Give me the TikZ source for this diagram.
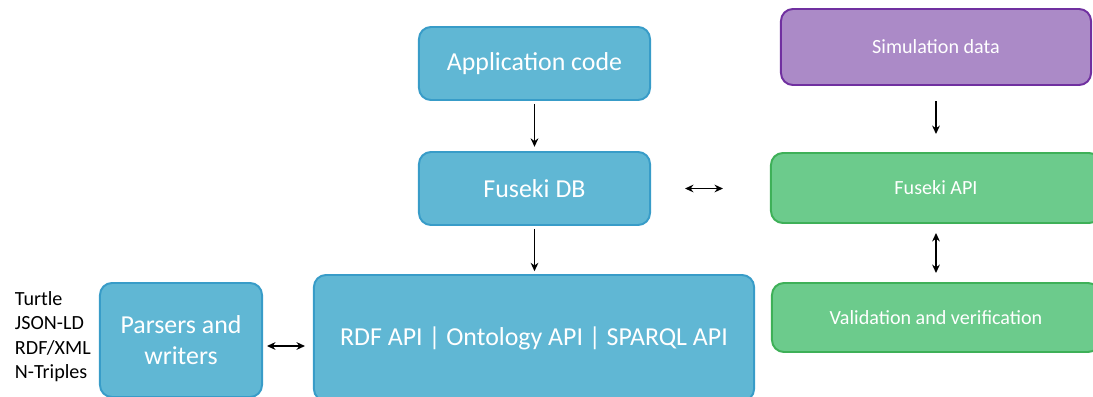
\documentclass[tikz,border=0pt]{standalone}
\usepackage{fontspec}
\setmainfont{Carlito}
\usepackage{tikz}
\usetikzlibrary{calc,arrows.meta,positioning}
\definecolor{skyFill}{RGB}{96, 183, 212}
\definecolor{skyLine}{RGB}{56, 156, 200}
\definecolor{leafFill}{RGB}{108, 203, 140}
\definecolor{leafLine}{RGB}{62, 176, 88}
\definecolor{lilacFill}{RGB}{171, 138, 199}
\definecolor{lilacLine}{RGB}{112, 48, 160}

\tikzset{
    box/.style={rounded corners=0.3cm, line width=1.4pt, text=white,
        align=center, inner sep=0pt},
    blueBox/.style={box, draw=skyLine, fill=skyFill,
        font=\fontsize{18.4}{22.5}\selectfont},
    greenBox/.style={box, draw=leafLine, fill=leafFill,
        font=\fontsize{14.3}{17.5}\selectfont},
    purpleBox/.style={box, draw=lilacLine, fill=lilacFill,
        font=\fontsize{14.3}{17.5}\selectfont},
    link/.style={line width=1.1pt, -{Stealth[length=6pt,width=5.5pt]}},
    twoway/.style={line width=1.1pt, {Stealth[length=6pt,width=5.5pt]}-{Stealth[length=6pt,width=5.5pt]}}
}

\begin{document}
\begin{tikzpicture}[x=0.025cm, y=-0.025cm]
    \useasboundingbox (0,0) rectangle (1093,396);
    \clip (0,0) rectangle (1093,396);
    % left column
    \node[blueBox, minimum width=5.775cm, minimum height=1.825cm] (app) at (534.5,63.5) {Application code};
    \node[blueBox, minimum width=5.775cm, minimum height=1.825cm] (fusekidb) at (534.5,188.5) {Fuseki DB};
    \node[blueBox, minimum width=11cm, minimum height=3.15cm] (rdfapi) at (534,338) {RDF API | Ontology API | SPARQL API};
    \node[blueBox, minimum width=4.05cm, minimum height=2.85cm] (parsers) at (181,340) {Parsers and\\writers};
    \node[anchor=west, align=left, font=\fontsize{14.3}{17.4}\selectfont] (formats) at (10,336.5) {Turtle\\JSON-LD\\RDF/XML\\N-Triples};
    % right column
    \node[purpleBox, minimum width=7.75cm, minimum height=1.9cm] (sim) at (936,47) {Simulation data};
    \node[greenBox, minimum width=8.25cm, minimum height=1.75cm] (fusekiapi) at (936,188) {Fuseki API};
    \node[greenBox, minimum width=8.2cm, minimum height=1.725cm] (valid) at (936,317.5) {Validation and verification};
    % arrows
    \draw[link, shorten <=2pt, shorten >=3pt] (app) -- (fusekidb);
    \draw[link, shorten <=2pt, shorten >=2pt] (fusekidb) -- (rdfapi.north -| fusekidb.south);
    \draw[link, shorten <=0.375cm, shorten >=0.45cm] (sim) -- (fusekiapi);
    \draw[twoway, shorten <=0.225cm, shorten >=0.225cm] (fusekiapi) -- (valid);
    \draw[twoway, shorten <=0.85cm, shorten >=1.175cm] (fusekidb) -- (fusekiapi.west |- fusekidb.east);
    \draw[twoway, shorten <=0.1cm, shorten >=0.2cm] ([yshift=-0.15cm]parsers.east) -- ([yshift=-0.15cm]parsers.east -| rdfapi.west);
\end{tikzpicture}
\end{document}
